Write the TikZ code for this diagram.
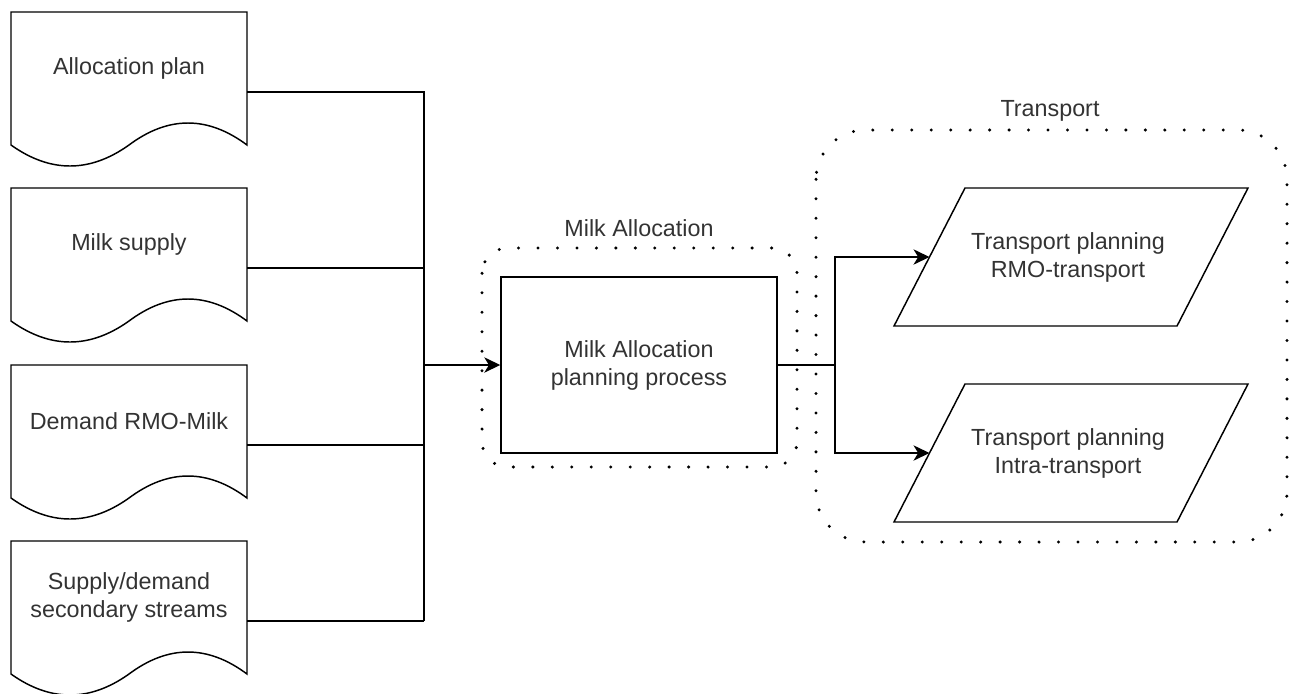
\documentclass[tikz,border=0pt]{standalone}
\usepackage{fontspec}
\setmainfont{Liberation Sans}
\usetikzlibrary{arrows.meta,calc}

% Document-shaped input box: name, top edge (px), text
\newcommand\docbox[3]{%
  \node[docarea] (#1) at (129,#2+80) {};
  \draw[shape line,shift={(11,#2)}] (0,0) -- (236,0) -- (236,133)
    .. controls (196.67,103.67) and (157.33,103.67) .. (118,133)
    .. controls (78.67,161) and (39.33,161) .. (0,133) -- cycle;
  \node[txt] (#1-label) at (129,#2+56) {#3};
}

% Parallelogram output box: name, top edge (px), text
\newcommand\iobox[3]{%
  \draw[shape line] (929.5,#2+69) coordinate (#1-in) -- (965,#2) -- (1248,#2)
    -- (1177,#2+138) -- (894,#2+138) -- cycle;
  \node[txt] (#1) at (1068,#2+69) {#3};
}

\begin{document}
\begin{tikzpicture}[x=0.75pt,y=-0.75pt,
  shape line/.style={line width=1.1pt,draw=black,line join=miter},
  docarea/.style={draw=none,minimum width=177pt,minimum height=120pt,inner sep=0pt},
  txt/.style={text=black!80,font=\fontsize{17.5pt}{21pt}\selectfont,align=center,inner sep=0pt},
  wire/.style={line width=1.1pt,draw=black},
  arrow/.style={wire,-{Stealth[length=12pt,width=11.5pt,inset=3.5pt]}},
  group/.style={draw=black,line width=2.5pt,line cap=round,
    dash pattern=on 0pt off 14.6pt},
  procbox/.style={shape line,rectangle,minimum width=207pt,minimum height=132pt,
    inner sep=0pt,text=black!80,font=\fontsize{17.5pt}{21pt}\selectfont,align=center}
]
\useasboundingbox (0,0) rectangle (1298,693);

% groups
\draw[group,rounded corners=19pt] (482,248) rectangle (797,467);
\node[txt] (ma-title) at (639,228) {Milk Allocation};
\draw[group,rounded corners=37pt] (816,130) rectangle (1287,542);
\node[txt] (tr-title) at (1050,111) {Transport};

% inputs
\docbox{d1}{12}{Allocation plan}
\docbox{d2}{188}{Milk supply}
\docbox{d3}{365}{Demand RMO-Milk}
\docbox{d4}{541}{Supply/demand\\secondary streams}

% central process
\node[procbox] (mp) at (639,365) {Milk Allocation\\planning process};

% outputs
\iobox{p1}{188}{Transport planning\\RMO-transport}
\iobox{p2}{384}{Transport planning\\Intra-transport}

% connectors
\coordinate (bus) at (424,365);
\coordinate (split) at (835,365);
\draw[wire] (d1.east) -- (d1.east -| bus) -- (d4.east -| bus);
\draw[wire] (d2.east) -- (d2.east -| bus);
\draw[wire] (d3.east) -- (d3.east -| bus);
\draw[wire] (d4.east) -- (d4.east -| bus);
\draw[arrow] (bus) -- (mp.west);
\draw[wire] (mp.east) -- (split);
\draw[arrow] (split) |- (p1-in);
\draw[arrow] (split) |- (p2-in);
\end{tikzpicture}
\end{document}
